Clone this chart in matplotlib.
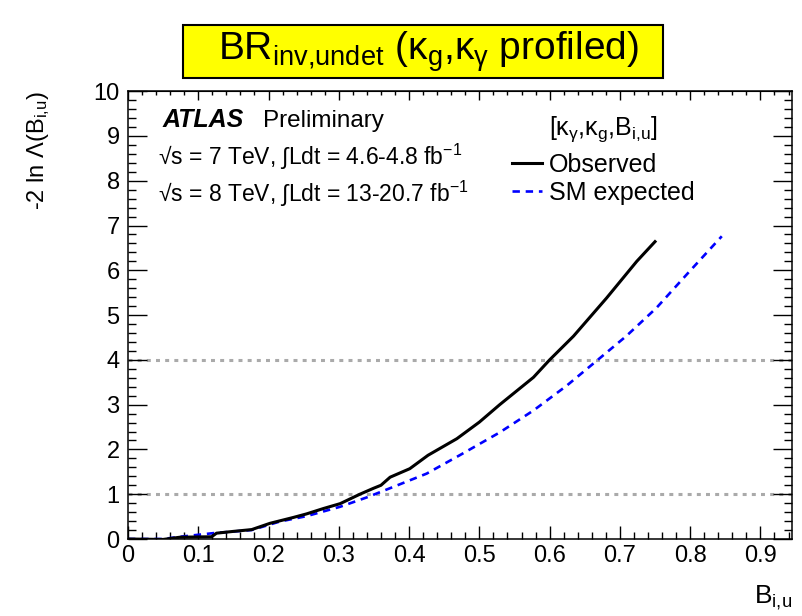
import matplotlib
matplotlib.use("Agg")
import matplotlib.pyplot as plt
from matplotlib.patches import Rectangle
from matplotlib.ticker import MultipleLocator, FixedLocator

plt.rcParams['font.family'] = ['Liberation Sans', 'DejaVu Sans']
plt.rcParams['mathtext.fontset'] = 'custom'
plt.rcParams['mathtext.rm'] = 'Liberation Sans'
plt.rcParams['mathtext.it'] = 'Liberation Sans'
plt.rcParams['mathtext.bf'] = 'Liberation Sans:bold'
plt.rcParams['mathtext.sf'] = 'Liberation Sans'

# Werte
obs_x = [0, 0.05, 0.074, 0.119, 0.126, 0.15, 0.176, 0.202, 0.235, 0.254, 0.278,
         0.302, 0.33, 0.349, 0.36, 0.373, 0.401, 0.427, 0.468, 0.50, 0.529,
         0.577, 0.60, 0.634, 0.681, 0.724, 0.75]
obs_y = [0, -0.01, 0.04, 0.05, 0.13, 0.17, 0.21, 0.35, 0.48, 0.56, 0.68,
         0.79, 1.0, 1.13, 1.20, 1.38, 1.57, 1.87, 2.24, 2.61, 3.0,
         3.61, 4.0, 4.53, 5.38, 6.20, 6.64]

exp_x = [0, 0.05, 0.074, 0.121, 0.176, 0.216, 0.254, 0.302, 0.34, 0.377, 0.425,
         0.472, 0.529, 0.577, 0.624, 0.667, 0.709, 0.752, 0.797, 0.845]
exp_y = [0, 0, 0.05, 0.13, 0.20, 0.39, 0.51, 0.72, 0.93, 1.16, 1.46,
         1.87, 2.38, 2.87, 3.42, 3.98, 4.53, 5.16, 5.94, 6.76]

ref_levels = [1, 4]
x_ticks = [0, 0.1, 0.2, 0.3, 0.4, 0.5, 0.6, 0.7, 0.8, 0.9]
x_labels = ["0", "0.1", "0.2", "0.3", "0.4", "0.5", "0.6", "0.7", "0.8", "0.9"]

fig = plt.figure(figsize=(8.02, 6.16), dpi=100)
ax = fig.add_axes([0.1596, 0.125, 0.828, 0.727])

for lev in ref_levels:
    ax.axhline(lev, color='#aaaaaa', lw=2.2, ls=(0, (1.3, 1.7)), zorder=1)

ax.plot(obs_x, obs_y, color='black', lw=2.2, label='Observed', zorder=3)
ax.plot(exp_x, exp_y, color='#0000ff', lw=1.9, ls=(0, (2.8, 2.2)),
        label='SM expected', zorder=2)

ax.set_xlim(0, 0.945)
ax.set_ylim(0, 10)
ax.xaxis.set_major_locator(FixedLocator(x_ticks))
ax.set_xticklabels(x_labels)
ax.xaxis.set_minor_locator(MultipleLocator(0.02))
ax.yaxis.set_major_locator(MultipleLocator(1))
ax.yaxis.set_minor_locator(MultipleLocator(0.2))

ax.tick_params(axis='x', which='both', direction='in', top=False, bottom=True,
               labelsize=17, pad=4)
ax.tick_params(axis='x', which='major', length=9.4, width=1.0)
ax.tick_params(axis='x', which='minor', length=4.7, width=1.0)
ax.tick_params(axis='y', which='both', direction='in', left=True, right=True,
               labelsize=17, pad=6)
ax.tick_params(axis='y', which='major', length=13.7, width=1.0)
ax.tick_params(axis='y', which='minor', length=6.1, width=1.0)

top = ax.secondary_xaxis('top')
top.xaxis.set_major_locator(FixedLocator(x_ticks))
top.xaxis.set_minor_locator(MultipleLocator(0.02))
top.tick_params(which='both', direction='in', labeltop=False)
top.tick_params(which='major', length=6.5, width=1.0)
top.tick_params(which='minor', length=2.9, width=1.0)

for s in ax.spines.values():
    s.set_linewidth(1.1)

ax.text(1.0, -0.143, r"B$_{\mathrm{i{,}u}}$", transform=ax.transAxes, fontsize=19,
        ha='right', va='baseline')
ax.set_ylabel(r"-2 ln $\Lambda$(B$_{\mathrm{i{,}u}}$)", fontsize=17, loc='top')
ax.yaxis.set_label_coords(-0.114, 1.0)

ax.text(0.0527, 0.920, "ATLAS", transform=ax.transAxes, fontsize=18,
        fontweight='bold', fontstyle='italic', va='baseline')
ax.text(0.203, 0.920, "Preliminary", transform=ax.transAxes, fontsize=17.5,
        va='baseline')
ax.text(0.045, 0.835, r"√s = 7 TeV, ∫Ldt = 4.6-4.8 fb$^{-1}$",
        transform=ax.transAxes, fontsize=16.5, va='baseline')
ax.text(0.045, 0.752, r"√s = 8 TeV, ∫Ldt = 13-20.7 fb$^{-1}$",
        transform=ax.transAxes, fontsize=16.5, va='baseline')

ax.text(0.634, 0.902, r"[$\kappa_{\gamma}$,$\kappa_{\mathrm{g}}$,B$_{\mathrm{i{,}u}}$]",
        transform=ax.transAxes, fontsize=18, va='baseline')
ax.legend(loc='upper left', bbox_to_anchor=(0.578, 0.862), frameon=False,
          fontsize=18, handlelength=1.2, handletextpad=0.3, labelspacing=0.15,
          borderpad=0, borderaxespad=0)

fig.patches.append(Rectangle((183 / 802, 1 - 78 / 616), 480 / 802, 53 / 616,
                             transform=fig.transFigure, facecolor='#ffff00',
                             edgecolor='black', lw=1.5, zorder=0))
fig.text(428 / 802, 1 - 52 / 616,
         r"BR$_{\mathrm{inv{,}undet}}$ ($\kappa_{\mathrm{g}}$,$\kappa_{\gamma}$ profiled)",
         fontsize=28, ha='center', va='center')

fig.savefig("out.png", dpi=100)
